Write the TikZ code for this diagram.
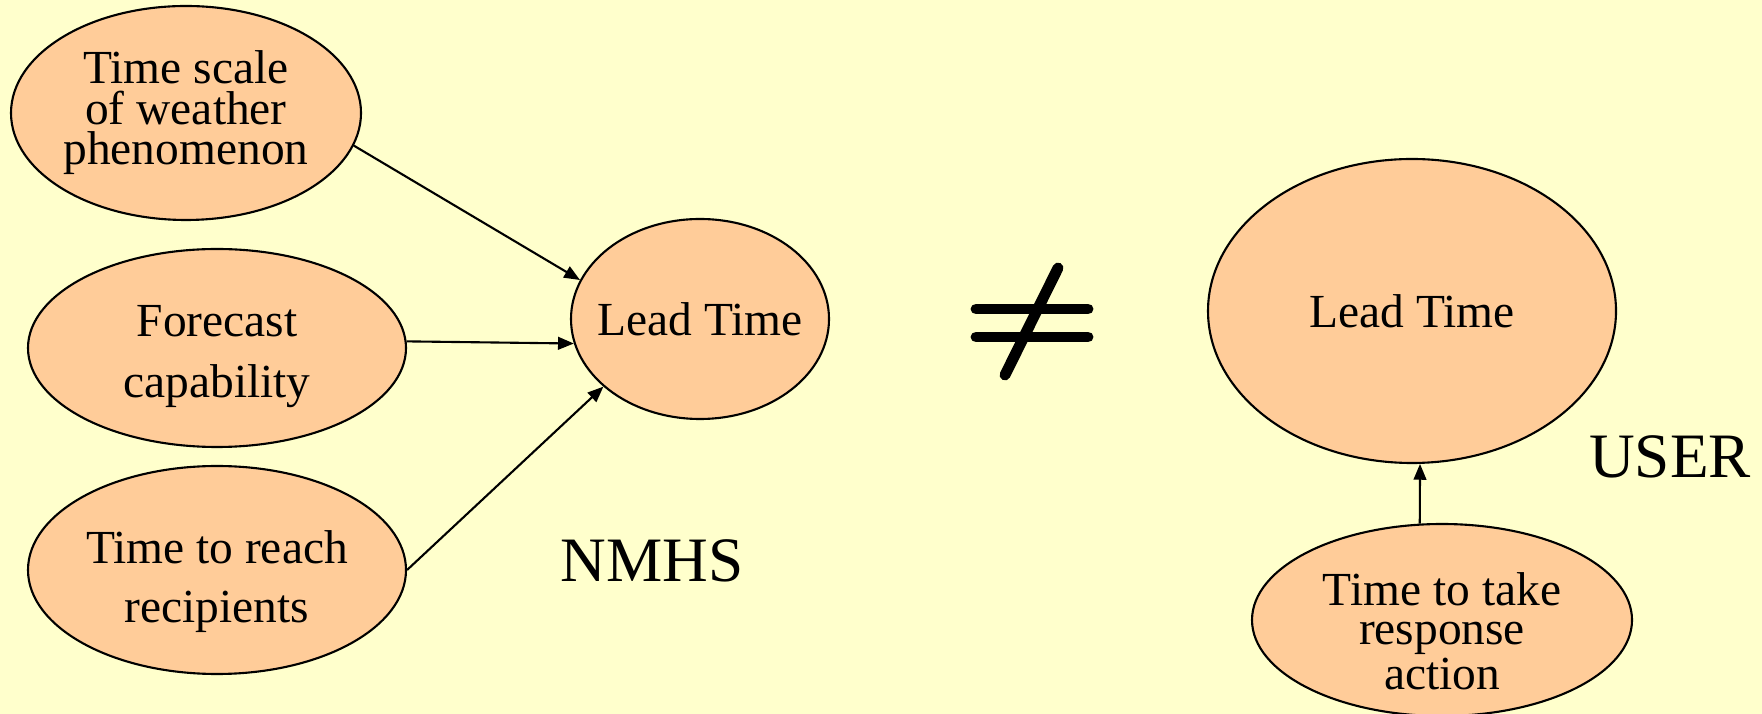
\documentclass[tikz,border=0pt]{standalone}
\usepackage{fontspec}
\setmainfont{Liberation Serif}
\definecolor{paper}{RGB}{255,255,204}
\definecolor{peach}{RGB}{255,204,153}
\usetikzlibrary{positioning,shapes.geometric,arrows.meta}

\begin{document}
\begin{tikzpicture}[
  oval/.style={draw=black, fill=peach, ellipse, line width=0.6pt, inner sep=0pt, align=center, font=\fontsize{13.5}{11.5}\selectfont},
  arr/.style={-{Triangle[length=4.5pt,width=3.6pt]}, line width=0.6pt, color=black},
  big/.style={font=\fontsize{18}{20}\selectfont, inner sep=0pt},
  neq/.style={line width=3.1pt, line cap=round}
]
  \fill[paper] (0,0) rectangle (17.62,-7.14);
  \useasboundingbox (0,0) rectangle (17.62,-7.14);

  \node[oval, minimum width=3.50cm, minimum height=2.14cm] (tscale) at (1.86,-1.13) {Time scale\\of weather\\phenomenon};
  \node[oval, minimum width=3.78cm, minimum height=1.98cm, font=\fontsize{13.5}{17.5}\selectfont] (fcast) at (2.17,-3.48) {\rule{0pt}{0.48cm}Forecast\\capability};
  \node[oval, minimum width=3.78cm, minimum height=2.08cm, font=\fontsize{13.5}{16.8}\selectfont] (reach) at (2.17,-5.70) {\rule{0pt}{0.56cm}Time to reach\\recipients};
  \node[oval, minimum width=2.58cm, minimum height=2.00cm, inner xsep=-0.16cm] (lead) at (7.00,-3.19) {Lead Time};
  \node[big] (nmhs) at (6.52,-5.61) {NMHS};

  \node[oval, minimum width=4.08cm, minimum height=3.04cm] (leadu) at (14.12,-3.11) {Lead Time};
  \node[oval, minimum width=3.80cm, minimum height=1.92cm, inner ysep=-0.2cm, font=\fontsize{13.5}{11.2}\selectfont] (action) at (14.42,-6.20) {\rule{0pt}{0.56cm}Time to take\\response\\action};
  \node[big] (user) at (16.70,-4.57) {USER};

  \draw[arr] (tscale.-11) -- (lead.162);
  \draw[arr] (fcast.2.5) -- (lead.191);
  \draw[arr] (reach.east) -- (lead.215);
  \draw[arr] (action.103) -- (leadu.-87);

  \draw[neq] (9.76,-3.09) -- (10.88,-3.09);
  \draw[neq] (9.76,-3.37) -- (10.88,-3.37);
  \draw[neq] (10.58,-2.68) -- (10.05,-3.75);
\end{tikzpicture}
\end{document}
